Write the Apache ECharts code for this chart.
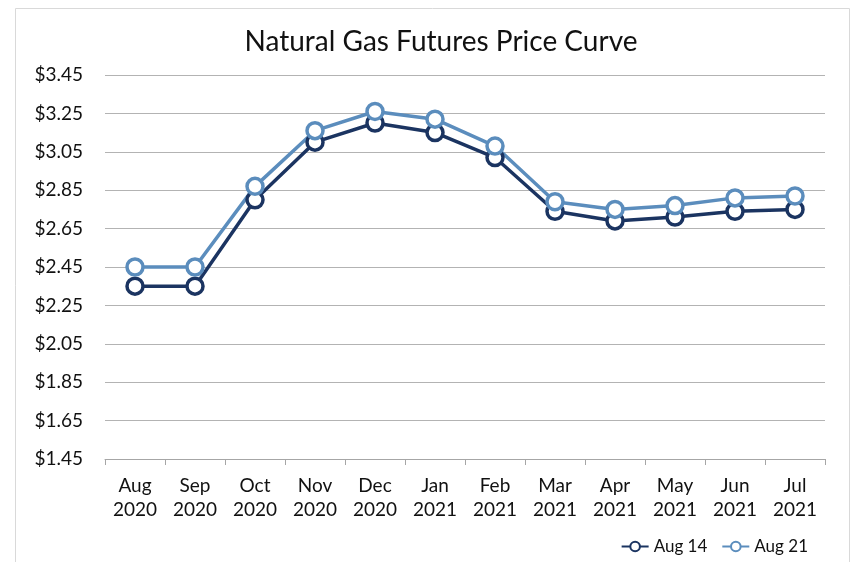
<!DOCTYPE html>
<html>
<head>
<meta charset="utf-8">
<script src="https://cdn.jsdelivr.net/npm/echarts@6/dist/echarts.min.js"></script>
<style>
  html, body { margin: 0; padding: 0; background: #fff; }
  #chart { width: 855px; height: 562px; }
</style>
</head>
<body>
<div id="chart"></div>
<script>
// categories (two-line labels)
const months = ['Aug\n2020', 'Sep\n2020', 'Oct\n2020', 'Nov\n2020', 'Dec\n2020', 'Jan\n2021',
  'Feb\n2021', 'Mar\n2021', 'Apr\n2021', 'May\n2021', 'Jun\n2021', 'Jul\n2021']

// futures prices
const aug14 = [2.35, 2.35, 2.80, 3.10, 3.20, 3.15, 3.02, 2.74, 2.69, 2.71, 2.74, 2.75]
const aug21 = [2.45, 2.45, 2.87, 3.16, 3.26, 3.22, 3.08, 2.79, 2.75, 2.77, 2.81, 2.82]

const yMin = 1.45
const yMax = 3.45
const yStep = 0.2

const chart = echarts.init(document.getElementById('chart'))

const makeSeries = (name, data, color) => ({
  name: name,
  type: 'line',
  data: data,
  symbol: 'circle',
  symbolSize: 16,
  lineStyle: {width: 3.5, color: color},
  itemStyle: {color: '#fff', borderColor: color, borderWidth: 3.5},
  emphasis: {disabled: true}
})

const option = {
  animation: false,
  textStyle: {fontFamily: 'Lato'},
  title: {
    text: 'Natural Gas Futures Price Curve',
    left: 436,
    top: 23,
    textAlign: 'center',
    textStyle: {fontFamily: 'Lato', fontSize: 28, fontWeight: 'normal', color: '#111'}
  },
  graphic: [{
    type: 'rect',
    shape: {x: 15.5, y: 8.5, width: 834, height: 600},
    style: {fill: 'none', stroke: '#d9d9d9', lineWidth: 1},
    silent: true
  }],
  legend: {
    right: 42,
    top: 533,
    itemWidth: 27,
    itemHeight: 12,
    itemGap: 14,
    textStyle: {fontFamily: 'Lato', fontSize: 17, color: '#111'},
    data: ['Aug 14', 'Aug 21']
  },
  grid: {left: 105, right: 30, top: 75, bottom: 103},
  xAxis: {
    type: 'category',
    data: months,
    boundaryGap: true,
    axisLine: {lineStyle: {color: '#a6a6a6', width: 1}},
    axisTick: {show: true, length: 6, lineStyle: {color: '#a6a6a6'}},
    axisLabel: {fontFamily: 'Lato', fontSize: 19, color: '#111', lineHeight: 24, margin: 15}
  },
  yAxis: {
    type: 'value',
    min: yMin,
    max: yMax,
    interval: yStep,
    axisLine: {show: false},
    axisTick: {show: false},
    splitLine: {lineStyle: {color: '#b3b3b3', width: 1}},
    axisLabel: {
      fontFamily: 'Lato', fontSize: 19, color: '#111', margin: 22,
      formatter: (v) => '$' + v.toFixed(2)
    }
  },
  series: [
    makeSeries('Aug 14', aug14, '#1b3461'),
    makeSeries('Aug 21', aug21, '#5b8dbd')
  ]
}

chart.setOption(option)
</script>
</body>
</html>
